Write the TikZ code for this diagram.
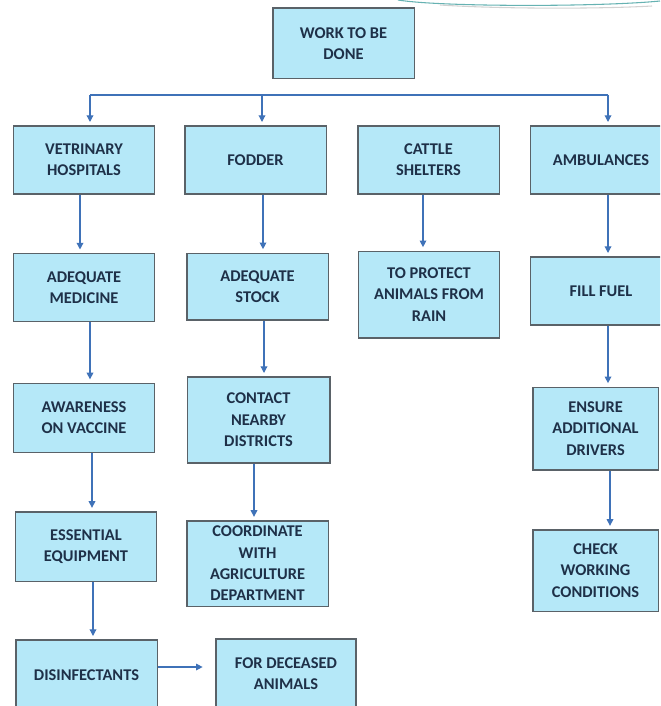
\documentclass[tikz,border=0pt]{standalone}
\usepackage{fontspec}
\setmainfont{Carlito}
\usetikzlibrary{arrows.meta}

\definecolor{boxfill}{HTML}{B5E8F8}
\definecolor{boxline}{HTML}{5A6268}
\definecolor{inktext}{HTML}{1E3048}
\definecolor{wire}{HTML}{3F72B8}

\begin{document}
\begin{tikzpicture}[x=0.75pt,y=-0.75pt,
    box/.style={draw=boxline,fill=boxfill,line width=1pt,text=inktext,
      font=\fontsize{12.3}{16}\selectfont\bfseries,align=center,
      inner sep=0pt,minimum width=106pt,minimum height=51pt},
    link/.style={color=wire,line width=0.9pt,
      -{Triangle[width=5pt,length=5pt]},shorten >=2.5pt}]
  \clip (0,0) rectangle (660,706);

  % theme swoosh, top right
  \draw[color=teal!60,line width=0.8pt] (398,0) .. controls (440,7) and (600,7) .. (660,1);
  \draw[color=gray!35,line width=0.8pt] (440,5) .. controls (500,9) and (600,9) .. (652,6);

  \node[box,minimum height=53pt] (work) at (343.5,43.5) {WORK TO BE\\DONE};

  \node[box] (vet)    at (84,160)    {VETRINARY\\HOSPITALS};
  \node[box] (fodder) at (255.5,160) {FODDER};
  \node[box] (cattle) at (428.5,160) {CATTLE\\SHELTERS};
  \node[box] (amb)    at (601,160)   {AMBULANCES};

  \node[box] (med)   at (84,287.5)  {ADEQUATE\\MEDICINE};
  \node[box,minimum height=50pt] (stock) at (257.5,286.5) {ADEQUATE\\STOCK};
  \node[box,minimum height=65pt] (rain)  at (429,294.5)   {TO PROTECT\\ANIMALS FROM\\RAIN};
  \node[box] (fuel)  at (601,291)   {FILL FUEL};

  \node[box,minimum height=52pt] (vacc)    at (84,418)      {AWARENESS\\ON VACCINE};
  \node[box,minimum width=107pt,minimum height=64.5pt] (contact) at (258.5,420) {CONTACT\\NEARBY\\DISTRICTS};
  \node[box,minimum width=94pt,minimum height=62pt] (drivers) at (595.5,428.5) {ENSURE\\ADDITIONAL\\DRIVERS};

  \node[box,minimum height=52pt] (equip) at (86,546.5)  {ESSENTIAL\\EQUIPMENT};
  \node[box,minimum height=64pt] (coord) at (257.5,563.5) {COORDINATE\\WITH\\AGRICULTURE\\DEPARTMENT};
  \node[box,minimum width=94pt,minimum height=61pt] (check) at (595.5,570.5) {CHECK\\WORKING\\CONDITIONS};

  \node[box,minimum height=52.5pt] (disinf) at (86.5,675) {DISINFECTANTS};
  \node[box,minimum width=105pt,minimum height=52.5pt] (dead) at (286,674) {FOR DECEASED\\ANIMALS};

  % bus under the top box
  \coordinate (busL) at (90,95);
  \coordinate (busF) at (262,95);
  \coordinate (busR) at (608,95);
  \coordinate (lvl) at (0,667);
  \draw[draw=wire,line width=0.9pt] (busL) -- (busR);

  \path[link]
    (busL) edge (busL |- vet.north)
    (busF) edge (busF |- fodder.north)
    (busR) edge (busR |- amb.north)
    (80,0 |- vet.south)     edge (80,0 |- med.north)
    (263,0 |- fodder.south) edge (263,0 |- stock.north)
    (423,0 |- cattle.south) edge (423,0 |- rain.north)
    (608,0 |- amb.south)    edge (608,0 |- fuel.north)
    (90,0 |- med.south)     edge (90,0 |- vacc.north)
    (264,0 |- stock.south)  edge (264,0 |- contact.north)
    (608,0 |- fuel.south)   edge (608,0 |- drivers.north)
    (92,0 |- vacc.south)    edge (92,0 |- equip.north)
    (254,0 |- contact.south) edge (254,0 |- coord.north)
    (610,0 |- drivers.south) edge (610,0 |- check.north)
    (93,0 |- equip.south)   edge (93,0 |- disinf.north)
    (disinf.east |- lvl)    edge[shorten >=9.5pt] (dead.west |- lvl);
\end{tikzpicture}
\end{document}
